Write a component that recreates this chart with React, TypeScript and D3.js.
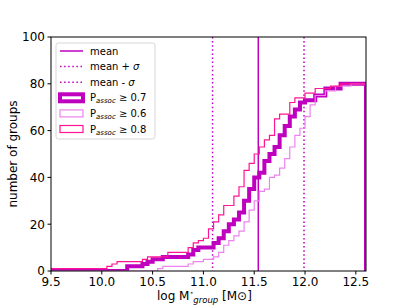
import React from "react";
import * as d3 from "d3";

// cumulative group counts (bin edge -> count)
const edges07 = [9.5, 10.25, 10.4, 10.45, 10.5, 10.6, 10.85, 10.9, 10.95, 11.1, 11.15, 11.2, 11.25, 11.3, 11.35, 11.4, 11.45, 11.5, 11.55, 11.6, 11.65, 11.7, 11.75, 11.8, 11.85, 11.9, 11.95, 12.0, 12.1, 12.2, 12.35];
const counts07 = [0, 2, 3, 4, 5, 6, 7, 9, 10, 12, 14, 17, 20, 22, 25, 30, 35, 40, 42, 47, 50, 53, 58, 62, 66, 69, 72, 73, 75, 78, 80];

const edges06 = [9.5, 10.55, 10.6, 10.85, 10.9, 11.0, 11.1, 11.15, 11.2, 11.25, 11.3, 11.35, 11.4, 11.45, 11.5, 11.55, 11.6, 11.65, 11.7, 11.75, 11.8, 11.85, 11.9, 11.95, 12.0, 12.05, 12.1, 12.2, 12.3, 12.45];
const counts06 = [0, 1, 2, 3, 4, 5, 6, 8, 11, 13, 15, 17, 21, 26, 30, 34, 35, 40, 41, 44, 48, 53, 58, 61, 66, 71, 75, 77, 79, 80];

const edges08 = [9.5, 10.05, 10.1, 10.15, 10.4, 10.45, 10.65, 10.85, 10.9, 10.95, 11.0, 11.05, 11.1, 11.15, 11.2, 11.3, 11.35, 11.4, 11.45, 11.5, 11.55, 11.6, 11.65, 11.7, 11.75, 11.85, 11.9, 12.0, 12.1, 12.25, 12.35];
const counts08 = [1, 2, 3, 4, 5, 6, 8, 10, 12, 13, 14, 18, 21, 24, 28, 32, 36, 43, 46, 50, 53, 56, 58, 65, 67, 72, 74, 76, 78, 79, 80];

const meanMass = 11.54;
const sigmaMass = 0.45;
const xTicks = [9.5, 10.0, 10.5, 11.0, 11.5, 12.0, 12.5];
const yTicks = [0, 20, 40, 60, 80, 100];

const MAG = "#bf00bf";
const font = "DejaVu Sans, sans-serif";

const App = () => {
  const left = 51, right = 366, top = 37, bottom = 271;
  const x = d3.scaleLinear().domain([9.5, 12.6]).range([left, right]);
  const y = d3.scaleLinear().domain([0, 100]).range([bottom, top]);

  const stepPath = (edges: number[], counts: number[]) => {
    const pts: [number, number][] = [[9.5, 0]];
    edges.forEach((e, i) => pts.push([e, counts[i]]));
    pts.push([12.6, counts[counts.length - 1]]);
    const line = d3
      .line<[number, number]>()
      .x((d) => x(d[0]))
      .y((d) => y(d[1]))
      .curve(d3.curveStepAfter);
    // closing drop at the last bin edge
    return line(pts) + `L${x(12.6)},${y(0)}`;
  };

  const series = [
    { edges: edges07, counts: counts07, color: MAG, width: 4 },
    { edges: edges06, counts: counts06, color: "violet", width: 1.2 },
    { edges: edges08, counts: counts08, color: "deeppink", width: 1.2 },
  ];

  const vlines = [
    { v: meanMass, dash: null },
    { v: meanMass + sigmaMass, dash: "1.5,2.6" },
    { v: meanMass - sigmaMass, dash: "1.5,2.6" },
  ];

  const legendRows = [
    { kind: "line", dash: null, label: "mean" },
    { kind: "line", dash: "1.5,2.6", label: "mean + σ" },
    { kind: "line", dash: "1.5,2.6", label: "mean - σ" },
    { kind: "patch", color: MAG, width: 4, label: "0.7" },
    { kind: "patch", color: "violet", width: 1.2, label: "0.6" },
    { kind: "patch", color: "deeppink", width: 1.2, label: "0.8" },
  ];

  return (
    <svg width={407} height={305} style={{ position: "absolute", left: 0, top: 0 }} fontFamily={font}>
      <rect width={407} height={305} fill="white" />
      <defs>
        <clipPath id="plot">
          <rect x={left} y={top} width={right - left} height={bottom - top} />
        </clipPath>
      </defs>
      <g clipPath="url(#plot)">
        {vlines.map((l, i) => (
          <line key={i} x1={x(l.v)} x2={x(l.v)} y1={top} y2={bottom} stroke={MAG} strokeWidth={1.5} strokeDasharray={l.dash || undefined} />
        ))}
        {series.map((s, i) => (
          <path key={i} d={stepPath(s.edges, s.counts)} fill="none" stroke={s.color} strokeWidth={s.width} strokeLinejoin="miter" />
        ))}
      </g>
      <rect x={left} y={top} width={right - left} height={bottom - top} fill="none" stroke="black" strokeWidth={1} />
      {xTicks.map((t) => (
        <g key={t}>
          <line x1={x(t)} x2={x(t)} y1={bottom} y2={bottom + 3.5} stroke="black" />
          <text x={x(t)} y={bottom + 15.3} textAnchor="middle" fontSize={12}>{t.toFixed(1)}</text>
        </g>
      ))}
      {yTicks.map((t) => (
        <g key={t}>
          <line x1={left - 3.5} x2={left} y1={y(t)} y2={y(t)} stroke="black" />
          <text x={left - 6} y={y(t) + 4.3} textAnchor="end" fontSize={12}>{t}</text>
        </g>
      ))}
      <text transform={`translate(17,${(top + bottom) / 2}) rotate(-90)`} textAnchor="middle" fontSize={12}>number of groups</text>
      <text x={157} y={300} fontSize={12}>
        log M
        <tspan fontSize={7} dy={-5.5}>⋆</tspan>
        <tspan fontSize={8.5} fontStyle="italic" dx={-0.5} dy={8}>group</tspan>
        <tspan dy={-2.5}> [M⊙]</tspan>
      </text>
      <g>
        <rect x={56} y={43} width={99} height={96} rx={2.5} fill="white" fillOpacity={0.8} stroke="#d6d6d6" />
        {legendRows.map((r, i) => {
          const cy = 51 + i * 15.6;
          return (
            <g key={i}>
              {r.kind === "line" ? (
                <line x1={60} x2={83} y1={cy} y2={cy} stroke={MAG} strokeWidth={1.5} strokeDasharray={r.dash || undefined} />
              ) : (
                <rect x={60} y={cy - 3.5} width={23} height={7} fill="none" stroke={r.color} strokeWidth={r.width} />
              )}
              {r.kind === "line" ? (
                <text x={90} y={cy + 3.6} fontSize={10}>
                  {r.label.startsWith("mean ") ? (
                    <>
                      {r.label.slice(0, -1)}
                      <tspan fontStyle="italic">σ</tspan>
                    </>
                  ) : (
                    r.label
                  )}
                </text>
              ) : (
                <text x={90} y={cy + 3.6} fontSize={10}>
                  P<tspan fontSize={7} fontStyle="italic" dy={2}>assoc</tspan>
                  <tspan dy={-2}>{" ≥  " + r.label}</tspan>
                </text>
              )}
            </g>
          );
        })}
      </g>
    </svg>
  );
};

export default App;
